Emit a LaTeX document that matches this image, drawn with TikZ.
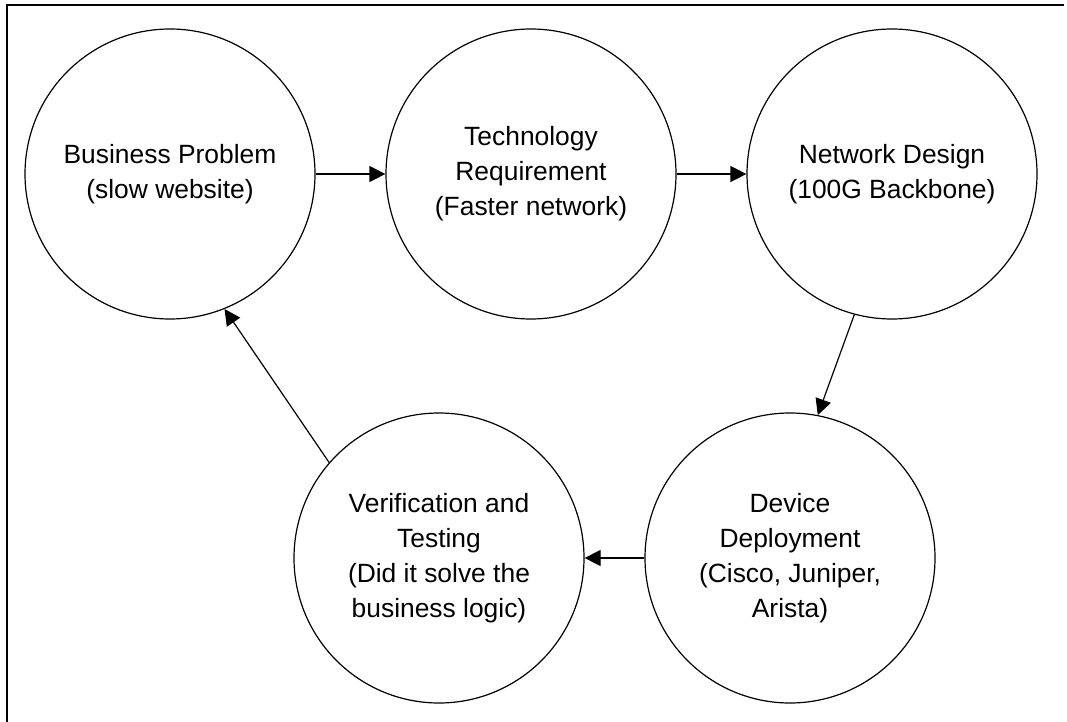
\documentclass[tikz,border=0pt]{standalone}
\usepackage{fontspec}
\setmainfont{Liberation Sans}
\usepackage{tikz}
\usetikzlibrary{arrows.meta, positioning}

\tikzset{
	stage/.style={draw, circle, line width=1.2pt, minimum size=290pt, inner sep=0pt,
		align=center, font=\fontsize{26.4}{35}\selectfont},
	flow/.style={line width=1.2pt, -{Triangle[length=16pt,width=16pt]}}
}

\begin{document}
\begin{tikzpicture}[x=1pt,y=-1pt]
\useasboundingbox (0,0) rectangle (1067,722);
% frame (only top and left edge are visible)
\draw[line width=2.2pt] (7,722) -- (7,5) -- (1064,5);

% stages of the cycle
\node[stage] (bp) at (170,174) {Business Problem\\(slow website)};
\node[stage] (tr) at (531,174) {Technology\\Requirement\\(Faster network)};
\node[stage] (nd) at (892,174) {Network Design\\(100G Backbone)};
\node[stage] (dd) at (790,558) {Device\\Deployment\\(Cisco, Juniper,\\Arista)};
\node[stage] (vt) at (439,558) {Verification and\\Testing\\(Did it solve the\\business logic)};

% connectors
\draw[flow] (bp) -- (tr);
\draw[flow] (tr) -- (nd);
\draw[flow] (nd.255) -- (dd.79);
\draw[flow] (dd) -- (vt);
\draw[flow] (vt.139) -- (bp.292);
\end{tikzpicture}
\end{document}
